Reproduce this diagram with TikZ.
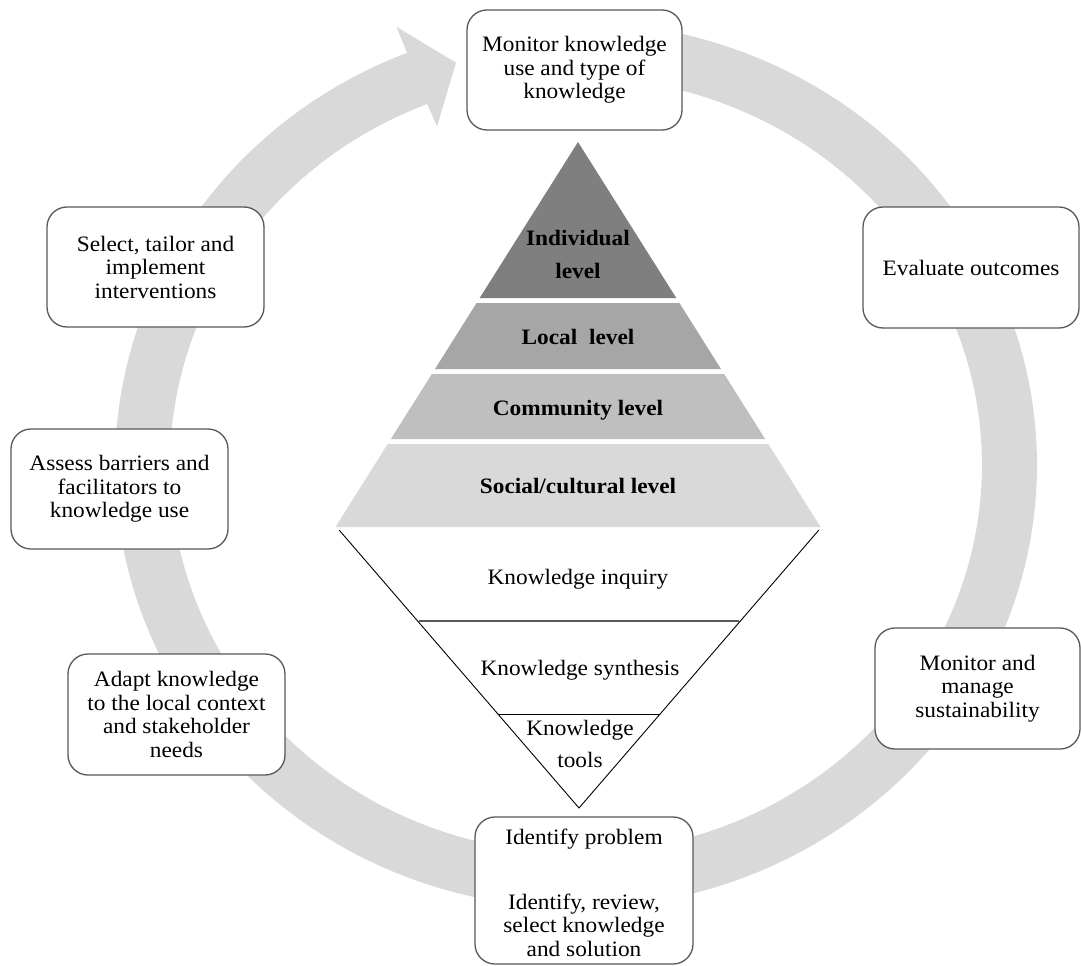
\documentclass[tikz,border=0pt]{standalone}
\usepackage{fontspec}
\setmainfont{Liberation Serif}[FakeStretch=1.06]
\definecolor{ringgray}{HTML}{D9D9D9}
\definecolor{boxline}{HTML}{595959}
\definecolor{lvlA}{HTML}{7F7F7F}
\definecolor{lvlB}{HTML}{A6A6A6}
\definecolor{lvlC}{HTML}{BFBFBF}
\definecolor{lvlD}{HTML}{D9D9D9}
\newcommand\boxfont{\fontsize{22}{23.5}\selectfont}
\begin{document}
\begin{tikzpicture}[x=1pt,y=-1pt,
  stagebox/.style={draw=boxline, line width=1.3pt, fill=white, rounded corners=20pt,
    align=center, inner sep=0pt, font=\boxfont},
  lvltext/.style={font=\boxfont\bfseries, anchor=base, inner sep=0pt},
  kntext/.style={font=\boxfont, anchor=base, inner sep=0pt},
  funnel/.style={line width=0.9pt, black}]
\fill[white] (0,0) rectangle (1082,966);
\useasboundingbox (0,0) rectangle (1082,966);

% circular process arrow (elliptical ring with arrow head)
\fill[ringgray]
  plot[domain=-100:248.5, samples=220] ({576+461*cos(\x)},{465+443*sin(\x)})
  -- ({576+490*cos(248.5)},{465+471*sin(248.5)})
  -- ({576+435.5*cos(254)},{465+418.5*sin(254)})
  -- ({576+379*cos(248.5)},{465+364*sin(248.5)})
  -- plot[domain=248.5:-100, samples=220] ({576+406*cos(\x)},{465+388*sin(\x)})
  -- cycle;

% pyramid of levels
\fill[lvlA] (578,142) -- (676.3,298) -- (479.7,298) -- cycle;
\fill[lvlB] (476.6,303) -- (679.4,303) -- (721.0,369) -- (435.0,369) -- cycle;
\fill[lvlC] (431.8,374) -- (724.2,374) -- (765.1,439) -- (390.9,439) -- cycle;
\fill[lvlD] (387.7,444) -- (768.3,444) -- (820.6,527) -- (335.5,527) -- cycle;

\node[lvltext, anchor=center, align=center, font=\fontsize{22}{33}\selectfont\bfseries]
  (indiv) at (578,254) {Individual\\level};
\node[lvltext] (local) at (578,344) {Local\ \ level};
\node[lvltext] (commun) at (578,415) {Community level};
\node[lvltext] (social) at (578,493) {Social/cultural level};

% inverted funnel of knowledge creation
\draw[funnel] (339.1,530) -- (579,808) -- (818.9,530);
\draw[boxline, line width=2pt] (419,621) -- (739,621);
\draw[funnel] (497.9,714) -- (660.1,714);

\node[kntext] (inquiry) at (578,584) {Knowledge inquiry};
\node[kntext] (synth) at (580,675) {Knowledge synthesis};
\node[font=\fontsize{22}{32}\selectfont, align=center, inner sep=0pt]
  (tools) at (580,744) {Knowledge\\tools};

% stages of the action cycle
\node[stagebox, minimum width=215pt, minimum height=120pt] (monitor) at (574.5,70)
  {Monitor knowledge\\use and type of\\knowledge};
\node[stagebox, minimum width=216pt, minimum height=121pt] (evaluate) at (971,267.5)
  {Evaluate outcomes};
\node[stagebox, minimum width=205pt, minimum height=121pt] (sustain) at (977.5,688.5)
  {Monitor and\\manage\\sustainability};
\node[stagebox, minimum width=218pt, minimum height=147pt] (identify) at (584,890.5) {};
\node[kntext] (idprob) at (584,844) {Identify problem};
\node[font=\boxfont, align=center, inner sep=0pt] (idsel) at (584,925)
  {Identify, review,\\select knowledge\\and solution};
\node[stagebox, minimum width=217pt, minimum height=121pt] (adapt) at (176.5,714.5)
  {Adapt knowledge\\to the local context\\and stakeholder\\needs};
\node[stagebox, minimum width=217pt, minimum height=120pt] (assess) at (119.5,489)
  {Assess barriers and\\facilitators to\\knowledge use};
\node[stagebox, minimum width=217pt, minimum height=120pt] (select) at (155.5,267)
  {Select, tailor and\\implement\\interventions};
\end{tikzpicture}
\end{document}
